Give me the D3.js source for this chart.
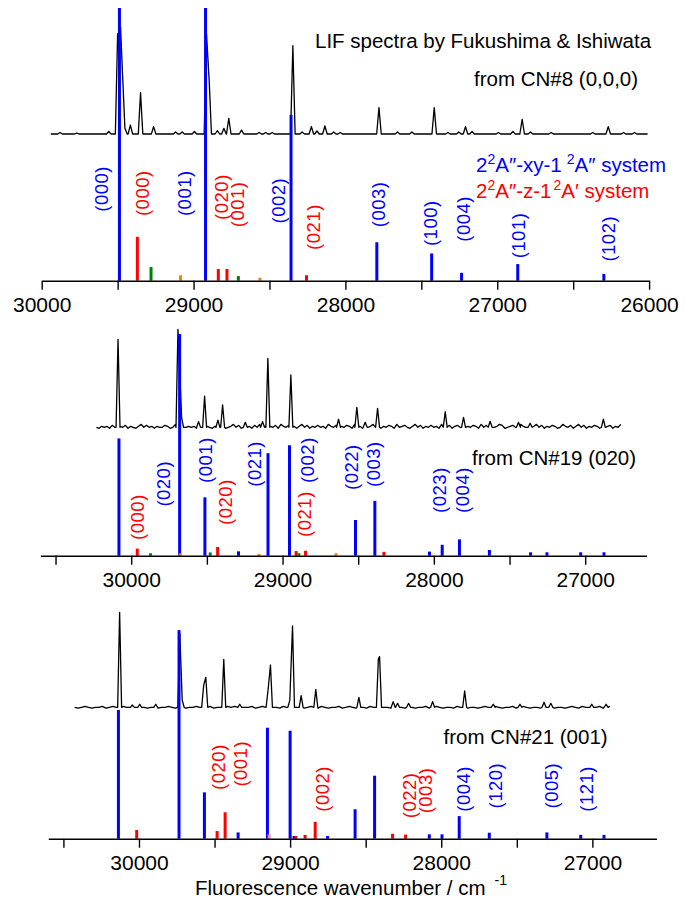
<!DOCTYPE html>
<html>
<head>
<meta charset="utf-8">
<script src="https://cdn.jsdelivr.net/npm/d3@7"></script>
<style>
  body { margin: 0; background: #fff; }
  svg text { font-family: "Liberation Sans", Arial, sans-serif; }
</style>
</head>
<body>
<div id="chart"></div>
<script>
// tick values (cm-1), labels only on thousands
var tickValues = [30500, 30000, 29500, 29000, 28500, 28000, 27500, 27000, 26500, 26000];

// ---- CN#8 (0,0,0) ----
var cn8Blue = [[29488, 100], [28921, 100], [28358, 60.8], [27793, 14.1], [27432, 10.0], [27235, 2.9], [26865, 6.1], [26298, 2.5]];
var cn8Red = [[29370, 16.1], [28837, 4.3], [28780, 4.3], [28256, 2.0]];
var cn8Green = [[29280, 5.0], [28705, 1.7]];
var cn8Orange = [[29086, 2.0], [28563, 1.1]];
var cn8Labels = [["(000)", "xy", 29609, 25.3], ["(000)", "z", 29335, 23.7], ["(001)", "xy", 29060, 23.7],
  ["(020)", "z", 28814, 22.3], ["(001)", "z", 28713, 19.6], ["(002)", "xy", 28438, 21.0],
  ["(021)", "z", 28207, 11.3], ["(003)", "xy", 27781, 19.6], ["(100)", "xy", 27440, 12.7],
  ["(004)", "xy", 27224, 14.3], ["(101)", "xy", 26862, 8.2], ["(102)", "xy", 26269, 7.0]];
var cn8Peaks = [[29879, 1.4], [29769, 0.9], [29558, 2.3], [29500, 94], [29490, 90], [29481, 100], [29452, 5.3], [29416, 8.4],
  [29349, 38.7], [29263, 6.8], [29118, 1.9], [29075, 1.9], [28994, 2.3], [28915, 94], [28897, 50], [28843, 3.1],
  [28800, 5.3], [28768, 14.7], [28684, 3.7], [28568, 1.4], [28525, 1.4], [28482, 1.4], [28346, 82.8], [28285, 1.9],
  [28224, 6.8], [28187, 2.8], [28135, 7.5], [28077, 1.9], [28034, 1.4], [27779, 24.7], [27657, 1.9], [27562, 1.9],
  [27415, 24.7], [27325, 1.4], [27253, 1.9], [27209, 6.8], [27166, 2.3], [26992, 1.4], [26897, 2.3], [26836, 13.8],
  [26781, 1.9], [26645, 1.4], [26371, 1.4], [26269, 6.8], [26168, 1.4], [26096, 1.4]];
var cn8Span = [29940, 26010];
var cn8Noise = "00";

// ---- CN#19 (020) ----
var cn19Blue = [[30081, 43.0], [29680, 81.3], [29513, 21.4], [29291, 1.6], [29096, 37.6], [28954, 40.5], [28518, 13.1],
  [28390, 20.1], [28029, 1.5], [27945, 4.0], [27831, 6.0], [27633, 2.1], [27361, 1.25], [27253, 1.25], [27030, 1.25], [26876, 1.25]];
var cn19Red = [[29960, 2.6], [29429, 3.2], [28910, 1.7], [28848, 1.8], [28330, 1.4]];
var cn19Green = [[29872, 0.9], [29478, 1.2], [28892, 0.9]];
var cn19Orange = [[29676, 0.9], [29156, 0.7], [28647, 0.9]];
var cn19Labels = [["(000)", "z", 29956, 5.8], ["(020)", "xy", 29785, 18.0], ["(001)", "xy", 29507, 26.7],
  ["(020)", "z", 29376, 11.3], ["(021)", "xy", 29182, 25.3], ["(002)", "xy", 28834, 26.7],
  ["(021)", "z", 28857, 6.9], ["(022)", "xy", 28544, 24.1], ["(003)", "xy", 28399, 25.2],
  ["(023)", "xy", 27964, 15.7], ["(004)", "xy", 27810, 15.7]];
var cn19Peaks = [[30087, 89.8], [29691, 100], [29667, 10.2], [29555, 5.8], [29515, 31.9], [29427, 7.4], [29396, 22.8],
  [29246, 5.1], [29132, 5.8], [29097, 70.4], [28945, 53.4], [28630, 8.2], [28509, 20.4], [28454, 5.1], [28372, 19.4],
  [27925, 15.9], [27804, 10.2], [27628, 6.1], [27441, 5.1], [27364, 4.1], [26880, 8.2]];
var cn19Span = [30230, 26765];
var cn19Noise = "21323142232413213524231322431253142323152432132431235241323142513232415324231352413242315324132431523142352413243152342135241324231532413425132431524132354123421532413524132431253241352413243152341325";

// ---- CN#21 (001) ----
var cn21Blue = [[30136, 47.2], [29735, 76.5], [29567, 17.0], [29344, 2.3], [29150, 40.7], [29000, 39.6], [28974, 1.0],
  [28752, 1.0], [28570, 10.8], [28441, 23.1], [28079, 1.6], [27995, 1.6], [27881, 8.3], [27682, 2.2], [27301, 2.3], [27077, 1.4], [26923, 1.4]];
var cn21Red = [[30015, 3.2], [29483, 2.8], [29430, 9.7], [28962, 1.0], [28901, 1.4], [28834, 6.2], [28322, 1.8], [28236, 1.5]];
var cn21Pink = [[29139, 1.6]];
var cn21Labels = [["(020)", "z", 29477, 17.9], ["(001)", "z", 29328, 19.1], ["(002)", "z", 28785, 9.9],
  ["(022)", "z", 28212, 7.5], ["(003)", "z", 28101, 9.3], ["(004)", "xy", 27854, 9.9],
  ["(120)", "xy", 27642, 11.1], ["(005)", "xy", 27273, 11.1], ["(121)", "xy", 27040, 9.9]];
var cn21Peaks = [[30128, 100], [30044, 2.4], [29995, 3.2], [29889, 3.2], [29730, 77.9], [29714, 7.7], [29572, 23],
  [29558, 31.6], [29439, 50.5], [29333, 3.2], [29146, 17.9], [29130, 44.5], [29002, 7.4], [28984, 85.6], [28927, 12.3],
  [28830, 18.9], [28545, 10.5], [28416, 51], [28408, 53.3], [28318, 6], [28289, 4.2], [28216, 4.2], [28057, 6],
  [27845, 17.2], [27656, 3.2], [27479, 3.2], [27320, 5.3], [27275, 4.2], [27004, 3.2], [26909, 3.2]];
var cn21Span = [30426, 26883];
var cn21Noise = "10121011201210211012101201121021011210120110212101120121011021201101210210112012101102120110121021011201210110212011012102101120121011021201101210211012012";

var colors = { blue: "#0000ff", red: "#ff0000", green: "#008000", orange: "#ff8000", pink: "#ff80c0" };
var sysColor = { xy: colors.blue, z: colors.red };

var svg = d3.select('#chart').append('svg')
  .attr('width', 685)
  .attr('height', 910);

// layout per panel
var panels = [
  { domain: [30000, 26000], range: [41.7, 649.1], axisY: 280.7, specBase: 134, specH: 106.7, halfW: 15, zero: 0, amp: 0,
    sticks: [[cn8Blue, colors.blue], [cn8Red, colors.red], [cn8Green, colors.green], [cn8Orange, colors.orange]],
    labels: cn8Labels, peaks: cn8Peaks, span: cn8Span, noise: cn8Noise,
    note: "from CN#8 (0,0,0)", noteX: 474, noteY: 86 },
  { domain: [30600, 26595], range: [40.4, 646.5], axisY: 555.7, specBase: 427.3, specH: 98, halfW: 13, zero: 2, amp: 1.0,
    sticks: [[cn19Blue, colors.blue], [cn19Red, colors.red], [cn19Green, colors.green], [cn19Orange, colors.orange]],
    labels: cn19Labels, peaks: cn19Peaks, span: cn19Span, noise: cn19Noise,
    note: "from CN#19 (020)", noteX: 472, noteY: 465 },
  { domain: [30600, 26575], range: [48.3, 656.6], axisY: 838.7, specBase: 707.3, specH: 95, halfW: 13, zero: 1, amp: 0.9,
    sticks: [[cn21Blue, colors.blue], [cn21Red, colors.red], [cn21Pink, colors.pink]],
    labels: cn21Labels, peaks: cn21Peaks, span: cn21Span, noise: cn21Noise,
    note: "from CN#21 (001)", noteX: 443.6, noteY: 743.5 }
];

// baseline noise + peak vertices, sorted along wavenumber
function spectrumPoints(p) {
  var pts = [];
  var n = p.noise.length;
  for (var i = 0; i < n; i++) {
    var w = p.span[0] - i * (p.span[0] - p.span[1]) / (n - 1);
    var near = p.peaks.some(function(q) { return Math.abs(q[0] - w) < p.halfW; });
    if (!near) pts.push([w, (+p.noise[i] - p.zero) * p.amp]);
  }
  p.peaks.forEach(function(q) {
    pts.push([q[0], q[1]]);
    [q[0] + p.halfW, q[0] - p.halfW].forEach(function(b) {
      var inside = p.peaks.some(function(r) { return r !== q && Math.abs(r[0] - b) < p.halfW; });
      if (!inside) pts.push([b, 0]);
    });
  });
  pts.sort(function(a, b) { return b[0] - a[0]; });
  return pts;
}

panels.forEach(function(p) {
  var x = d3.scaleLinear().domain(p.domain).range(p.range);
  var y = d3.scaleLinear().domain([0, 100]).range([p.axisY, p.axisY - 272.7]);
  var ys = d3.scaleLinear().domain([0, 100]).range([p.specBase, p.specBase - p.specH]);

  // LIF spectrum
  svg.append('path')
    .datum(spectrumPoints(p))
    .attr('fill', 'none')
    .attr('stroke', '#000')
    .attr('stroke-width', 1.3)
    .attr('stroke-linejoin', 'round')
    .attr('d', d3.line().x(function(d) { return x(d[0]); }).y(function(d) { return ys(d[1]); }));

  // calculated sticks
  p.sticks.forEach(function(s) {
    svg.append('g').selectAll('line')
      .data(s[0])
      .join('line')
      .attr('x1', function(d) { return x(d[0]); })
      .attr('x2', function(d) { return x(d[0]); })
      .attr('y1', y(0))
      .attr('y2', function(d) { return y(d[1]); })
      .attr('stroke', s[1])
      .attr('stroke-width', 3);
  });

  // vibrational labels, rotated
  svg.append('g').selectAll('text')
    .data(p.labels)
    .join('text')
    .attr('transform', function(d) { return 'translate(' + x(d[2]) + ',' + y(d[3]) + ') rotate(-90)'; })
    .attr('dy', '0.35em')
    .attr('font-size', 18.5)
    .attr('letter-spacing', 0.5)
    .attr('fill', function(d) { return sysColor[d[1]]; })
    .text(function(d) { return d[0]; });

  // axis
  var ax = svg.append('g')
    .attr('transform', 'translate(0,' + p.axisY + ')')
    .call(d3.axisBottom(x)
      .tickValues(tickValues.filter(function(t) { return t <= d3.max(p.domain) && t >= d3.min(p.domain); }))
      .tickSize(9)
      .tickSizeOuter(0)
      .tickPadding(7)
      .tickFormat(function(t) { return t % 1000 === 0 ? t : ''; }));
  ax.select('.domain').attr('stroke-width', 1.6);
  ax.selectAll('.tick line').attr('stroke-width', 1.4);
  ax.selectAll('.tick text')
    .attr('font-size', 21)
    .attr('font-family', '"Liberation Sans", Arial, sans-serif')
    .attr('fill', '#000');

  svg.append('text')
    .attr('x', p.noteX)
    .attr('y', p.noteY)
    .attr('font-size', 20.5)
    .text(p.note);
});

// title
svg.append('text')
  .attr('x', 315)
  .attr('y', 47.5)
  .attr('font-size', 20.5)
  .text("LIF spectra by Fukushima & Ishiwata");

// legend for the two transition systems
function legendLine(yPos, color, mid, last, gap) {
  var t = svg.append('text')
    .attr('x', 476)
    .attr('y', yPos)
    .attr('font-size', 20.5)
    .attr('fill', color);
  t.append('tspan').text("2");
  t.append('tspan').attr('font-size', 14).attr('dy', -8).text("2");
  t.append('tspan').attr('dy', 8).text(mid);
  t.append('tspan').attr('font-size', 14).attr('dy', -8).attr('dx', gap).text("2");
  t.append('tspan').attr('dy', 8).text(last);
}
legendLine(172, colors.blue, "A\u2033-xy-1", "A\u2033 system", 5);
legendLine(198, colors.red, "A\u2033-z-1", "A\u2032 system", 2);

// x axis title
var xt = svg.append('text')
  .attr('x', 195)
  .attr('y', 895)
  .attr('font-size', 20.5)
  .text("Fluorescence wavenumber / cm");
xt.append('tspan')
  .attr('dx', 9)
  .attr('dy', -10)
  .attr('font-size', 14)
  .text("-1");
</script>
</body>
</html>
